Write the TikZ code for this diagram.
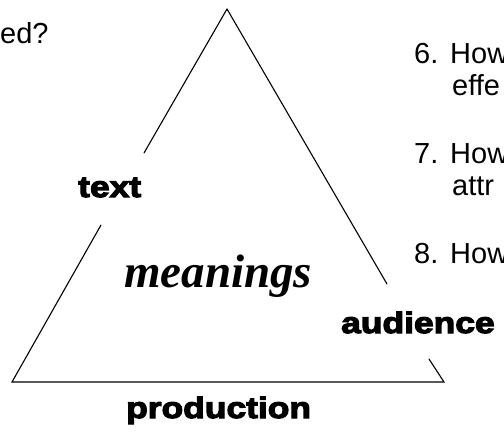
\documentclass[tikz,border=0pt]{standalone}
\usepackage{fontspec}
\setmainfont{Liberation Sans}
\newfontfamily\blk[FakeStretch=1.2,FakeBold=4]{Liberation Sans Bold}
\newfontfamily\tnr{Liberation Serif}
\tikzset{
  tri/.style={line width=1.1pt, line cap=round},
  qtext/.style={inner sep=0pt, anchor=base west, font=\fontsize{29}{32}\selectfont},
  lbl/.style={inner sep=0pt, anchor=base west, font=\blk\fontsize{29.5}{32}\selectfont},
  mean/.style={inner sep=0pt, anchor=base west, font=\tnr\bfseries\itshape\fontsize{47}{50}\selectfont}
}
\begin{document}
\begin{tikzpicture}[x=1pt,y=-1pt]
\useasboundingbox (0,0) rectangle (504,432);
% triangle corners and gap ends
\coordinate (A) at (227,9);
\coordinate (L) at (12,382);
\coordinate (R) at (444,382);
\coordinate (l1) at (144,153);
\coordinate (l2) at (101,225);
\coordinate (r1) at (387,284);
\coordinate (r2) at (429,359);
\draw[tri] (A) -- (l1);
\draw[tri] (l2) -- (L) -- (R) -- (r2);
\draw[tri] (r1) -- (A);
% labels
\node[lbl] (text) at (78,197) {text};
\node[lbl] (aud) at (341,333) {audience};
\node[lbl] (prod) at (126,418) {production};
\node[mean] (mean) at (124,287) {meanings};
% questions
\node[qtext] (q5) at (0,43) {ed?};
\node[qtext] (n6) at (414,63) {6.};
\node[qtext] (h6) at (450,63) {How};
\node[qtext] (e6) at (452,95) {effe};
\node[qtext] (n7) at (414,163) {7.};
\node[qtext] (h7) at (450,163) {How};
\node[qtext] (a7) at (452,195) {attr};
\node[qtext] (n8) at (414,263) {8.};
\node[qtext] (h8) at (450,263) {How};
\end{tikzpicture}
\end{document}
